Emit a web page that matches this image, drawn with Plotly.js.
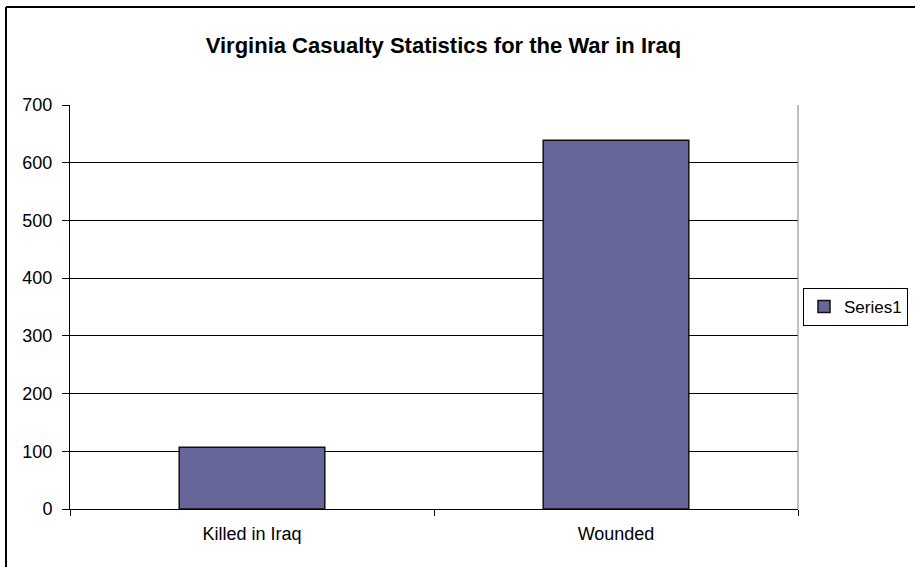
<!DOCTYPE html>
<html>
<head>
<meta charset="utf-8">
<script src="https://cdn.plot.ly/plotly-3.0.1.min.js"></script>
<style>
  html, body { margin: 0; padding: 0; background: #fff; }
  #chart { width: 915px; height: 567px; }
</style>
</head>
<body>
<div id="chart"></div>
<script>
const categories = ["Killed in Iraq", "Wounded"];
const values = [107, 639];
const seriesName = "Series1";
const chartTitle = "Virginia Casualty Statistics for the War in Iraq";

// pixel -> paper helpers (plot area 70..798 x, 105..509 y)
const L = 70, R = 798, T = 105, B = 509;
const px = x => (x - L) / (R - L);
const py = y => (B - y) / (B - T);

const trace = {
  type: "bar",
  x: categories,
  y: values,
  name: seriesName,
  showlegend: true,
  marker: { color: "#666699", line: { color: "#111", width: 1.5 } }
};

const layout = {
  width: 915, height: 567,
  margin: { l: L, r: 915 - R, t: T, b: 567 - B, pad: 0, autoexpand: false },
  paper_bgcolor: "#ffffff",
  plot_bgcolor: "#ffffff",
  font: { family: "Liberation Sans, Arial, sans-serif", size: 18, color: "#000" },
  title: {
    text: "<b>" + chartTitle + "</b>",
    font: { family: "Liberation Sans, Arial, sans-serif", size: 22, color: "#000" },
    x: px(443.5), xref: "paper", xanchor: "center",
    y: 1 - 45 / 567, yref: "container", yanchor: "middle"
  },
  bargap: 0.6,
  xaxis: {
    type: "category",
    showline: true, linecolor: "#000", linewidth: 1,
    ticks: "outside", tickson: "boundaries", ticklen: 6, tickcolor: "#000",
    ticklabelstandoff: 8,
    showgrid: false, zeroline: false,
    tickfont: { size: 18 }
  },
  yaxis: {
    range: [0, 700], dtick: 100, tick0: 0,
    showline: true, linecolor: "#000", linewidth: 1,
    ticks: "outside", ticklen: 7, tickcolor: "#000",
    ticklabelstandoff: 6,
    showgrid: true, gridcolor: "#000", gridwidth: 1,
    zeroline: false,
    tickfont: { size: 18 }
  },
  legend: {
    x: px(803), xanchor: "left", y: 0.5, yanchor: "middle",
    bordercolor: "#000", borderwidth: 1, bgcolor: "#fff",
    font: { size: 17 }, itemwidth: 30
  },
  shapes: [
    { type: "line", xref: "paper", yref: "paper", x0: 1, x1: 1, y0: 0, y1: 1,
      line: { color: "#808080", width: 1 } },
    { type: "line", xref: "paper", yref: "paper", x0: px(6), x1: px(6), y0: py(7), y1: py(570),
      line: { color: "#000", width: 2 } },
    { type: "line", xref: "paper", yref: "paper", x0: px(6), x1: px(920), y0: py(7), y1: py(7),
      line: { color: "#000", width: 2 } }
  ]
};

Plotly.newPlot("chart", [trace], layout, { displayModeBar: false, staticPlot: true });
</script>
</body>
</html>
